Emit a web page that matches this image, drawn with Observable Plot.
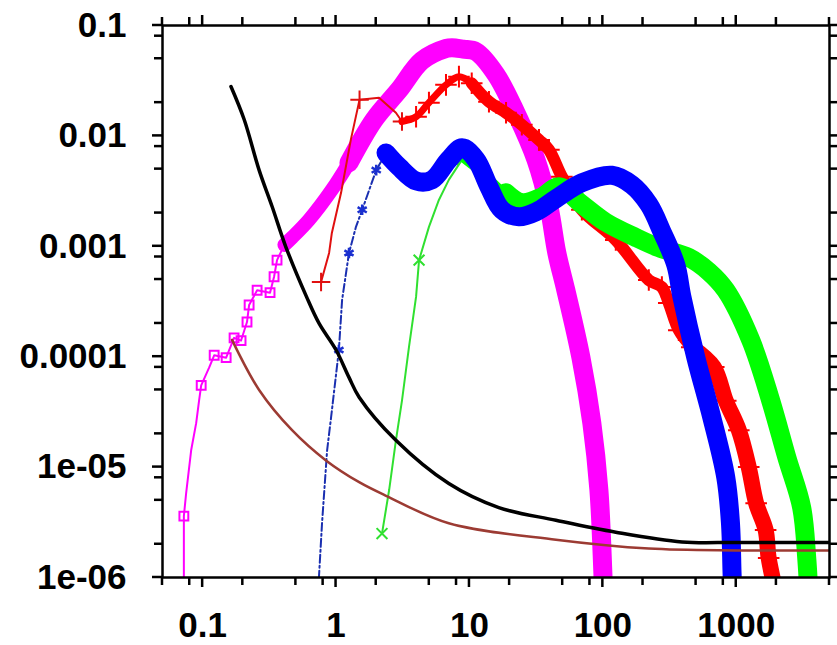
<!DOCTYPE html>
<html>
<head>
<meta charset="utf-8">
<script src="https://cdn.jsdelivr.net/npm/d3@7"></script>
<script src="https://cdn.jsdelivr.net/npm/@observablehq/plot@0.6"></script>
<style>
  html, body { margin: 0; padding: 0; background: #fff; overflow: hidden; }
  #chart { width: 837px; height: 645px; }
  #chart svg { display: block; }
</style>
</head>
<body>
<div id="chart"></div>
<script>
// ---- tick values and labels ----
const xMajorTicks = [0.1, 1, 10, 100, 1000];
const xTickLabels = ["0.1", "1", "10", "100", "1000"];
const xMinorTicks = [0.05, 0.08, 0.2, 0.5, 0.8, 2, 5, 8, 20, 50, 80, 200, 500, 800, 2000, 5000];
const yMajorTicks = [0.1, 0.01, 0.001, 0.0001, 0.00001, 0.000001];
const yTickLabels = ["0.1", "0.01", "0.001", "0.0001", "1e-05", "1e-06"];
const yMinorTicks = [0.08, 0.05, 0.02, 0.008, 0.005, 0.002, 0.0008, 0.0005, 0.0002,
  0.00008, 0.00005, 0.00002, 0.000008, 0.000005, 0.000002];

// ---- series ----
const magentaX = [0.0723, 0.0723, 0.0752, 0.082, 0.0894, 0.094, 0.0975, 0.112, 0.122, 0.15, 0.172, 0.194, 0.215, 0.223, 0.256, 0.32, 0.343, 0.361,
  0.41, 0.468, 0.628, 0.93, 1.25, 1.93, 2.96, 4.4, 6.7, 7.4, 9.0, 11.2, 15.8, 22.3, 31.5, 39.4, 45.2, 52.8, 68.4, 82.7, 93.4, 100, 102];
const magentaY = [5e-7, 3.6e-6, 5.8e-6, 1.42e-5, 2.5e-5, 4.0e-5, 5.5e-5, 8.0e-5, 1.03e-4, 9.8e-5, 1.48e-4, 1.4e-4, 2.06e-4, 2.94e-4, 4.0e-4, 3.8e-4, 5.3e-4, 7.5e-4,
  1.03e-3, 1.2e-3, 1.74e-3, 3.25e-3, 5.7e-3, 0.014, 0.026, 0.048, 0.062, 0.063, 0.061, 0.058, 0.036, 0.0162, 0.0061, 0.00228, 8.7e-4, 4.0e-4, 9.9e-5, 2.5e-5, 6.2e-6, 1.1e-6, 5e-7];
const magentaMarkerIdx = [1, 6, 8, 9, 10, 11, 12, 13, 14, 15, 16, 17];

const redX = [0.772, 0.887, 0.93, 1.09, 1.29, 1.5, 2.1, 2.81, 3.12, 3.98, 4.97, 6.67, 8.34, 10.4, 14, 18.8, 24.7, 33.2, 39.4, 49.3,
  69.6, 125, 221, 277, 312, 371, 464, 678, 834, 1045, 1240, 1410, 1660, 1750, 2000];
const redY = [4.75e-4, 8.7e-4, 1.32e-3, 3.05e-3, 9.2e-3, 0.0213, 0.0222, 0.0162, 0.0135, 0.0149, 0.020, 0.029, 0.0344, 0.030, 0.0204, 0.0162, 0.0126, 0.0092, 0.0075, 0.00427,
  0.00214, 0.00114, 4.95e-4, 4.27e-4, 3.07e-4, 1.74e-4, 1.22e-4, 8.05e-5, 4.0e-5, 2.16e-5, 1.0e-5, 4.7e-6, 2.7e-6, 1.5e-6, 7e-7];
const redMarkerIdx = [0, 5, 8];

const blueX = [0.72, 0.785, 0.857, 0.918, 1.05, 1.11, 1.25, 1.41, 1.57, 2.0, 2.37, 2.96, 4.0, 5.24, 7.0, 8.8, 11.2, 14, 17.5, 23.5,
  31.5, 44.5, 69.6, 117, 165, 221, 277, 352, 391, 497, 655, 834, 905, 930, 950];
const blueY = [5e-7, 3.1e-6, 1.42e-5, 2.83e-5, 1.15e-4, 3.27e-4, 8.7e-4, 1.5e-3, 2.14e-3, 4.9e-3, 7.0e-3, 5.25e-3, 3.9e-3, 4.0e-3, 6.1e-3, 7.8e-3, 6.1e-3, 3.46e-3, 2.14e-3, 1.85e-3,
  2.05e-3, 2.7e-3, 3.76e-3, 4.4e-3, 3.6e-3, 2.4e-3, 1.36e-3, 6.8e-4, 3.5e-4, 9.9e-5, 2.83e-5, 8.1e-6, 3.1e-6, 1.1e-6, 5e-7];
const blueMarkerIdx = [4, 6, 8, 9, 10];

const greenX = [2.21, 2.5, 2.81, 3.12, 3.52, 3.98, 4.19, 4.97, 5.9, 7.0, 8.8, 11.2, 14, 18.8, 24.7, 34.9, 46.8, 69.6, 105, 177,
  263, 441, 622, 834, 1284, 1812, 2390, 3093, 3375, 3550];
const greenY = [2.5e-6, 6.2e-6, 1.75e-5, 4.0e-5, 1.22e-4, 3.5e-4, 7.5e-4, 1.5e-3, 2.63e-3, 4.0e-3, 6.1e-3, 4.9e-3, 4.27e-3, 3.05e-3, 2.48e-3, 2.8e-3, 3.46e-3, 2.4e-3, 1.65e-3, 1.2e-3,
  9.7e-4, 7.9e-4, 5.9e-4, 4.0e-4, 1.41e-4, 4.0e-5, 1.23e-5, 4.3e-6, 1.5e-6, 5e-7];
const greenMarkerIdx = [0, 6, 10];

const blackX = [0.163, 0.205, 0.265, 0.332, 0.42, 0.6, 0.746, 1.0, 1.25, 1.49, 2.81, 7.0, 16.6, 44.5, 125, 392, 1000, 5000];
const blackY = [0.028, 0.014, 0.0049, 0.00228, 9.9e-4, 3.5e-4, 2.0e-4, 1.15e-4, 6.5e-5, 4.3e-5, 1.75e-5, 7.1e-6, 4.3e-6, 3.3e-6, 2.57e-6, 2.1e-6, 2.08e-6, 2.08e-6];

const brownX = [0.166, 0.265, 0.468, 0.84, 1.49, 2.37, 7.0, 44.5, 221, 1000, 5000];
const brownY = [1.42e-4, 5.0e-5, 2.16e-5, 1.15e-5, 7.3e-6, 5.5e-6, 3.1e-6, 2.2e-6, 1.83e-6, 1.76e-6, 1.76e-6];

(function () {
  // ---- build tables ----
  const series = (xs, ys) => xs.map((x, i) => ({x, y: ys[i]}));
  const mag = series(magentaX, magentaY);
  const red = series(redX, redY);
  const blue = series(blueX, blueY);
  const green = series(greenX, greenY);
  const black = series(blackX, blackY);
  const brown = series(brownX, brownY);

  const xLabelOf = new Map(xMajorTicks.map((v, i) => [v, xTickLabels[i]]));
  const yLabelOf = new Map(yMajorTicks.map((v, i) => [v, yTickLabels[i]]));

  const MAG = "#ff00ff", RED = "#ff0000", BLUE = "#0000ff", GREEN = "#00ff00";
  const xy = {x: "x", y: "y", clip: true};
  const font = {fontFamily: "'Liberation Sans', Arial, Helvetica, sans-serif", fontSize: 35, fontWeight: "bold"};
  const xDom = [0.05, 5000], yDom = [1e-6, 0.1];

  const chart = Plot.plot({
    width: 837,
    height: 645,
    marginLeft: 162,
    marginRight: 8,
    marginTop: 25,
    marginBottom: 68,
    x: {type: "log", domain: xDom, label: null},
    y: {type: "log", domain: yDom, label: null},
    style: {background: "#fff", color: "#000", fontFamily: font.fontFamily, fontWeight: "bold", fontSize: "35px"},
    marks: [
      // magenta
      Plot.line(mag.slice(0, 19), {...xy, stroke: MAG, strokeWidth: 2}),
      Plot.dot(magentaMarkerIdx.map(i => mag[i]), {...xy, symbol: "square", r: 5, fill: "none", stroke: MAG, strokeWidth: 2}),
      Plot.line(mag.slice(18, 24), {...xy, stroke: MAG, strokeWidth: 14, curve: "catmull-rom"}),
      Plot.line(mag.slice(22), {...xy, stroke: MAG, strokeWidth: 19, curve: "catmull-rom"}),
      // red
      Plot.line(red.slice(0, 9), {...xy, stroke: "#e01010", strokeWidth: 2}),
      Plot.dot(redMarkerIdx.map(i => red[i]), {...xy, symbol: "plus", r: 6, stroke: "#e01010", strokeWidth: 2}),
      Plot.line(red.slice(8, 14), {...xy, stroke: RED, strokeWidth: 7, curve: "catmull-rom"}),
      Plot.line(red.slice(13), {...xy, stroke: RED, strokeWidth: 12, curve: "catmull-rom"}),
      Plot.line(red.slice(26), {...xy, stroke: RED, strokeWidth: 16, curve: "catmull-rom"}),
      Plot.dot(red.slice(9), {...xy, symbol: "plus", r: 7, stroke: RED, strokeWidth: 2}),
      // green
      Plot.line(green.slice(0, 11), {...xy, stroke: "#30e030", strokeWidth: 2}),
      Plot.dot(greenMarkerIdx.map(i => green[i]), {...xy, symbol: "times", r: 5, stroke: "#30e030", strokeWidth: 2}),
      Plot.line(green.slice(10, 14), {...xy, stroke: GREEN, strokeWidth: 5, curve: "catmull-rom"}),
      Plot.line(green.slice(13), {...xy, stroke: GREEN, strokeWidth: 19, curve: "catmull-rom"}),
      // blue
      Plot.line(blue.slice(0, 11), {...xy, stroke: "#1a2fb0", strokeWidth: 2, strokeDasharray: "8,3,2,3"}),
      Plot.dot(blueMarkerIdx.map(i => blue[i]), {...xy, symbol: "asterisk", r: 5, stroke: "#1a2fd0", strokeWidth: 2.5}),
      Plot.line(blue.slice(10), {...xy, stroke: BLUE, strokeWidth: 19, curve: "catmull-rom"}),
      // smooth reference curves
      Plot.line(black, {...xy, stroke: "#000", strokeWidth: 3.5, curve: "catmull-rom"}),
      Plot.line(brown, {...xy, stroke: "#9c3b33", strokeWidth: 2.5, curve: "catmull-rom"}),
      // frame and labels
      Plot.frame({stroke: "#000", strokeWidth: 2.5}),
      Plot.axisX(xMajorTicks, {anchor: "bottom", tickSize: 0, tickPadding: 35, label: null, tickFormat: d => xLabelOf.get(d), ...font}),
      Plot.axisY(yMajorTicks, {anchor: "left", tickSize: 0, tickPadding: 36, label: null, tickFormat: d => yLabelOf.get(d), ...font})
    ]
  });
  document.getElementById("chart").appendChild(chart);

  // ---- outward tick marks on all four sides, positioned with the plot's own scales ----
  const sx = chart.scale("x"), sy = chart.scale("y");
  const frameL = sx.apply(xDom[0]), frameR = sx.apply(xDom[1]);
  const frameB = sy.apply(yDom[0]), frameT = sy.apply(yDom[1]);
  const tg = d3.select(chart).append("g")
    .attr("stroke", "#000").attr("stroke-width", 2.5).attr("fill", "none");
  function drawXTicks(values, len) {
    for (const v of values) {
      const px = sx.apply(v);
      tg.append("line").attr("x1", px).attr("x2", px).attr("y1", frameB).attr("y2", frameB + len);
      tg.append("line").attr("x1", px).attr("x2", px).attr("y1", frameT).attr("y2", frameT - len);
    }
  }
  function drawYTicks(values, len) {
    for (const v of values) {
      const py = sy.apply(v);
      tg.append("line").attr("y1", py).attr("y2", py).attr("x1", frameL).attr("x2", frameL - len);
      tg.append("line").attr("y1", py).attr("y2", py).attr("x1", frameR).attr("x2", frameR + len);
    }
  }
  drawXTicks(xMajorTicks, 10);
  drawXTicks(xMinorTicks, 8);
  drawYTicks(yMajorTicks, 10);
  drawYTicks(yMinorTicks, 8);
})();
</script>
</body>
</html>
